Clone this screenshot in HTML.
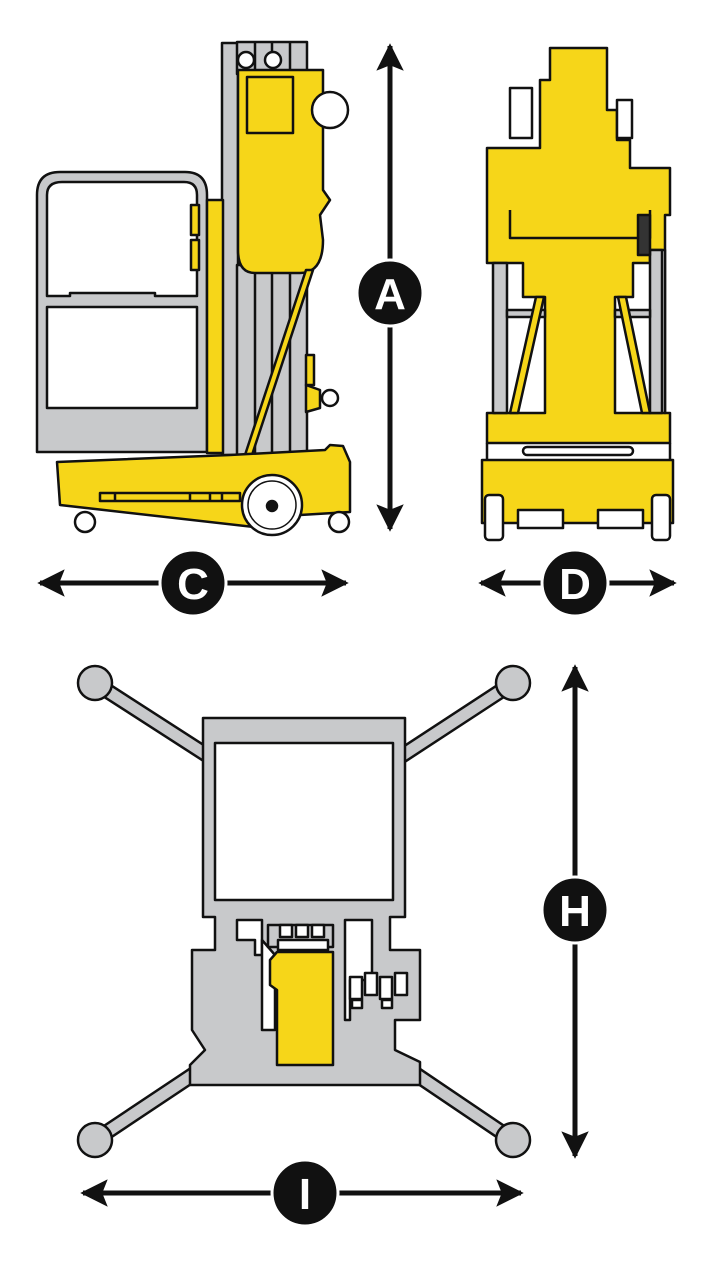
<!DOCTYPE html>
<html><head><style>html,body{margin:0;padding:0;background:#fff}svg{display:block}</style></head>
<body>
<svg width="728" height="1263" viewBox="0 0 728 1263" xmlns="http://www.w3.org/2000/svg" stroke-linejoin="round">
<defs>
<marker id="ah" viewBox="0 0 10 10" refX="9" refY="5" markerWidth="6" markerHeight="5.5" orient="auto-start-reverse"><path d="M0,0 L10,5 L0,10 L2,5 z" fill="#111"/></marker>
</defs>
<g stroke="#111" stroke-width="2.5">
<!-- SIDE VIEW -->
<rect x="222" y="43" width="16" height="412" fill="#c8c9cb"/>
<rect x="237" y="42" width="70" height="32" fill="#c8c9cb"/>
<rect x="237" y="265" width="70" height="192" fill="#c8c9cb"/>
<line x1="255" y1="270" x2="255" y2="455"/><line x1="272" y1="270" x2="272" y2="455"/><line x1="290" y1="270" x2="290" y2="455"/>
<line x1="255" y1="42" x2="255" y2="74"/><line x1="272" y1="42" x2="272" y2="74"/><line x1="290" y1="42" x2="290" y2="74"/>
<path d="M37,452 V195 Q37,172 60,172 H185 Q207,172 207,195 V452 Z" fill="#c8c9cb"/>
<path d="M47,296 V195 Q47,182 62,182 H184 Q197,182 197,195 V296 H155 V293 H70 V296 Z" fill="#fff"/>
<rect x="47" y="307" width="150" height="101" fill="#fff"/>
<rect x="191" y="205" width="8" height="30" fill="#f6d619"/>
<rect x="191" y="240" width="8" height="30" fill="#f6d619"/>
<rect x="207" y="200" width="16" height="253" fill="#f6d619"/>
<path d="M238,70 H323 V190 L330,200 L320,215 L323,240 Q323,273 300,273 H255 Q238,273 238,250 Z" fill="#f6d619"/>
<rect x="247" y="77" width="46" height="56" fill="#f6d619"/>
<circle cx="330" cy="110" r="18" fill="#fff"/>
<circle cx="246" cy="60" r="8" fill="#fff"/>
<circle cx="273" cy="60" r="8" fill="#fff"/>
<path d="M306,270 L313,270 L252,455 L245,455 Z" fill="#f6d619"/>
<rect x="306" y="355" width="8" height="30" fill="#f6d619"/>
<path d="M306,385 L320,390 L320,408 L306,412 Z" fill="#f6d619"/>
<circle cx="330" cy="398" r="8" fill="#fff"/>
<path d="M57,462 L230,455 L325,450 L330,445 L343,446 L350,462 L350,512 L300,515 L280,530 L60,505 Z" fill="#f6d619"/>
<rect x="100" y="493" width="140" height="8" fill="#f6d619"/>
<line x1="115" y1="493" x2="115" y2="501"/><line x1="190" y1="493" x2="190" y2="501"/><line x1="210" y1="493" x2="210" y2="501"/><line x1="222" y1="493" x2="222" y2="501"/>
<circle cx="272" cy="505" r="30" fill="#fff"/>
<circle cx="272" cy="505" r="24" fill="#fff" stroke-width="1.5"/>
<circle cx="272" cy="506" r="5" fill="#111"/>
<circle cx="85" cy="522" r="10" fill="#fff"/>
<circle cx="339" cy="522" r="10" fill="#fff"/>

<!-- FRONT VIEW -->
<path d="M550,48 H607 V110 H617 V140 H630 V168 H670 V215 H665 V413 H670 V443 H487 V413 H495 V263 H487 V148 H540 V80 H550 Z" fill="#f6d619"/>
<path d="M495,263 H523 V297 H545 V413 H495 Z" fill="#fff"/>
<path d="M665,250 H650 V263 H633 V297 H615 V413 H665 Z" fill="#fff"/>
<rect x="493" y="263" width="14" height="150" fill="#c8c9cb"/>
<rect x="650" y="250" width="12" height="163" fill="#c8c9cb"/>
<rect x="507" y="310" width="38" height="7" fill="#c8c9cb"/>
<rect x="615" y="310" width="35" height="7" fill="#c8c9cb"/>
<path d="M536,297 L544,297 L518,413 L510,413 Z" fill="#f6d619"/>
<path d="M618,297 L626,297 L650,413 L642,413 Z" fill="#f6d619"/>
<path d="M510,210 V238 H650 V210" fill="none"/>
<rect x="510" y="88" width="22" height="50" fill="#fff"/>
<rect x="617" y="100" width="15" height="38" fill="#fff"/>
<rect x="638" y="215" width="12" height="40" fill="#333"/>
<path d="M482,460 H673 V523 H482 Z" fill="#f6d619"/>
<path d="M487,443 V460 M670,443 V460" fill="none"/>
<rect x="523" y="447" width="110" height="8" rx="4" fill="#fff"/>
<rect x="485" y="495" width="18" height="45" rx="4" fill="#fff"/>
<rect x="652" y="495" width="18" height="45" rx="4" fill="#fff"/>
<rect x="518" y="510" width="45" height="18" fill="#fff"/>
<rect x="598" y="510" width="45" height="18" fill="#fff"/>

<!-- BOTTOM VIEW -->
<g stroke-linecap="round">
<line x1="95" y1="683" x2="230" y2="770" stroke-width="16"/>
<line x1="513" y1="683" x2="380" y2="770" stroke-width="16"/>
<line x1="95" y1="1140" x2="230" y2="1050" stroke-width="16"/>
<line x1="513" y1="1140" x2="380" y2="1050" stroke-width="16"/>
<line x1="95" y1="683" x2="230" y2="770" stroke="#c8c9cb" stroke-width="11"/>
<line x1="513" y1="683" x2="380" y2="770" stroke="#c8c9cb" stroke-width="11"/>
<line x1="95" y1="1140" x2="230" y2="1050" stroke="#c8c9cb" stroke-width="11"/>
<line x1="513" y1="1140" x2="380" y2="1050" stroke="#c8c9cb" stroke-width="11"/>
</g>
<circle cx="95" cy="683" r="17" fill="#c8c9cb"/>
<circle cx="513" cy="683" r="17" fill="#c8c9cb"/>
<circle cx="95" cy="1140" r="17" fill="#c8c9cb"/>
<circle cx="513" cy="1140" r="17" fill="#c8c9cb"/>
<path d="M203,718 H405 V917 H390 V950 H420 V1020 H395 V1050 L420,1062 V1085 H190 V1065 L205,1050 L192,1030 V950 H215 V917 H203 Z" fill="#c8c9cb"/>
<rect x="215" y="743" width="178" height="157" fill="#fff"/>
<path d="M237,920 H262 V955 H255 V940 H237 Z" fill="#fff"/>
<path d="M345,920 H372 V980 H350 V1020 H345 Z" fill="#fff"/>
<path d="M262,940 V1030 H275 V955 Z" fill="#fff"/>
<rect x="268" y="925" width="65" height="22" fill="#c8c9cb"/>
<rect x="280" y="925" width="12" height="12" fill="#fff"/><rect x="296" y="925" width="12" height="12" fill="#fff"/><rect x="312" y="925" width="12" height="12" fill="#fff"/>
<rect x="278" y="940" width="50" height="10" fill="#fff"/>
<path d="M277,952 H333 V1065 H277 V990 L270,985 V960 Z" fill="#f6d619"/>
<rect x="350" y="977" width="12" height="22" fill="#fff"/><rect x="365" y="973" width="12" height="22" fill="#fff"/><rect x="380" y="977" width="12" height="22" fill="#fff"/><rect x="395" y="973" width="12" height="22" fill="#fff"/>
<rect x="352" y="1000" width="10" height="8" fill="#fff"/><rect x="382" y="1000" width="10" height="8" fill="#fff"/>
</g>

<!-- ARROWS -->
<g stroke="#111" stroke-width="5" marker-start="url(#ah)" marker-end="url(#ah)">
<line x1="390" y1="46" x2="390" y2="529"/>
<line x1="40" y1="583" x2="346" y2="583"/>
<line x1="481" y1="583" x2="674" y2="583"/>
<line x1="575" y1="667" x2="575" y2="1156"/>
<line x1="83" y1="1193" x2="521" y2="1193"/>
</g>
<g fill="#111" stroke="#fff" stroke-width="3">
<circle cx="390" cy="293" r="33"/>
<circle cx="193" cy="583" r="33"/>
<circle cx="575" cy="583" r="33"/>
<circle cx="575" cy="910" r="33"/>
<circle cx="305" cy="1193" r="33"/>
</g>
<g fill="#fff" font-family="Liberation Sans, sans-serif" font-weight="bold" font-size="44" text-anchor="middle">
<text x="390" y="309">A</text>
<text x="193" y="599">C</text>
<text x="575" y="599">D</text>
<text x="575" y="926">H</text>
<text x="305" y="1209">I</text>
</g>
</svg>
</body></html>
